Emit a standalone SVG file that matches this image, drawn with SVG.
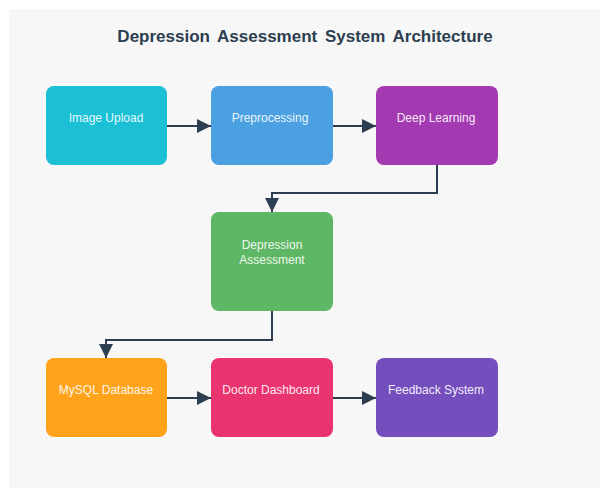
<svg xmlns="http://www.w3.org/2000/svg" width="600" height="488" viewBox="0 0 600 488">
  <defs>
    <marker id="arrow" viewBox="0 0 10 10" refX="10" refY="5" markerWidth="7" markerHeight="7" orient="auto" markerUnits="strokeWidth">
      <path d="M0,0 L10,5 L0,10 z" fill="#2c3e50"/>
    </marker>
    <style>
      .title { font-family: "Liberation Sans", Arial, sans-serif; font-size: 17px; font-weight: bold; fill: #2c3e50; text-anchor: middle; word-spacing: 3px; }
      .box { stroke: none; }
      .label { font-family: "Liberation Sans", Arial, sans-serif; font-size: 12px; fill: #ffffff; fill-opacity: 0.92; text-anchor: middle; }
      .link { fill: none; stroke: #2c3e50; stroke-width: 2; marker-end: url(#arrow); }
    </style>
  </defs>

  <!-- canvas -->
  <rect x="0" y="0" width="600" height="488" fill="#ffffff"/>
  <rect x="9" y="9" width="591" height="479" fill="#f7f7f7"/>

  <text class="title" x="305" y="42">Depression Assessment System Architecture</text>

  <!-- connectors -->
  <g id="connectors">
    <path class="link" d="M167,126 H211"/>
    <path class="link" d="M333,126 H376"/>
    <path class="link" d="M437,165 V193 H272 V212"/>
    <path class="link" d="M272,311 V340 H106 V358"/>
    <path class="link" d="M167,398 H211"/>
    <path class="link" d="M333,398 H376"/>
  </g>

  <!-- row 1 -->
  <g id="image-upload">
    <rect class="box" x="46" y="86" width="121" height="79" rx="8" fill="#1bc0d5"/>
    <text class="label" x="106" y="122">Image Upload</text>
  </g>
  <g id="preprocessing">
    <rect class="box" x="211" y="86" width="122" height="79" rx="8" fill="#4aa0e0"/>
    <text class="label" x="270" y="122">Preprocessing</text>
  </g>
  <g id="deep-learning">
    <rect class="box" x="376" y="86" width="122" height="79" rx="8" fill="#a43ab1"/>
    <text class="label" x="436" y="122">Deep Learning</text>
  </g>

  <!-- row 2 -->
  <g id="depression-assessment">
    <rect class="box" x="211" y="212" width="122" height="99" rx="8" fill="#5db764"/>
    <text class="label" x="272" y="249">Depression</text>
    <text class="label" x="272" y="264">Assessment</text>
  </g>

  <!-- row 3 -->
  <g id="mysql-database">
    <rect class="box" x="46" y="358" width="121" height="79" rx="8" fill="#ffa31b"/>
    <text class="label" x="106" y="394">MySQL Database</text>
  </g>
  <g id="doctor-dashboard">
    <rect class="box" x="211" y="358" width="122" height="79" rx="8" fill="#e9346f"/>
    <text class="label" x="271" y="394">Doctor Dashboard</text>
  </g>
  <g id="feedback-system">
    <rect class="box" x="376" y="358" width="122" height="79" rx="8" fill="#754ebd"/>
    <text class="label" x="436" y="394">Feedback System</text>
  </g>
</svg>
